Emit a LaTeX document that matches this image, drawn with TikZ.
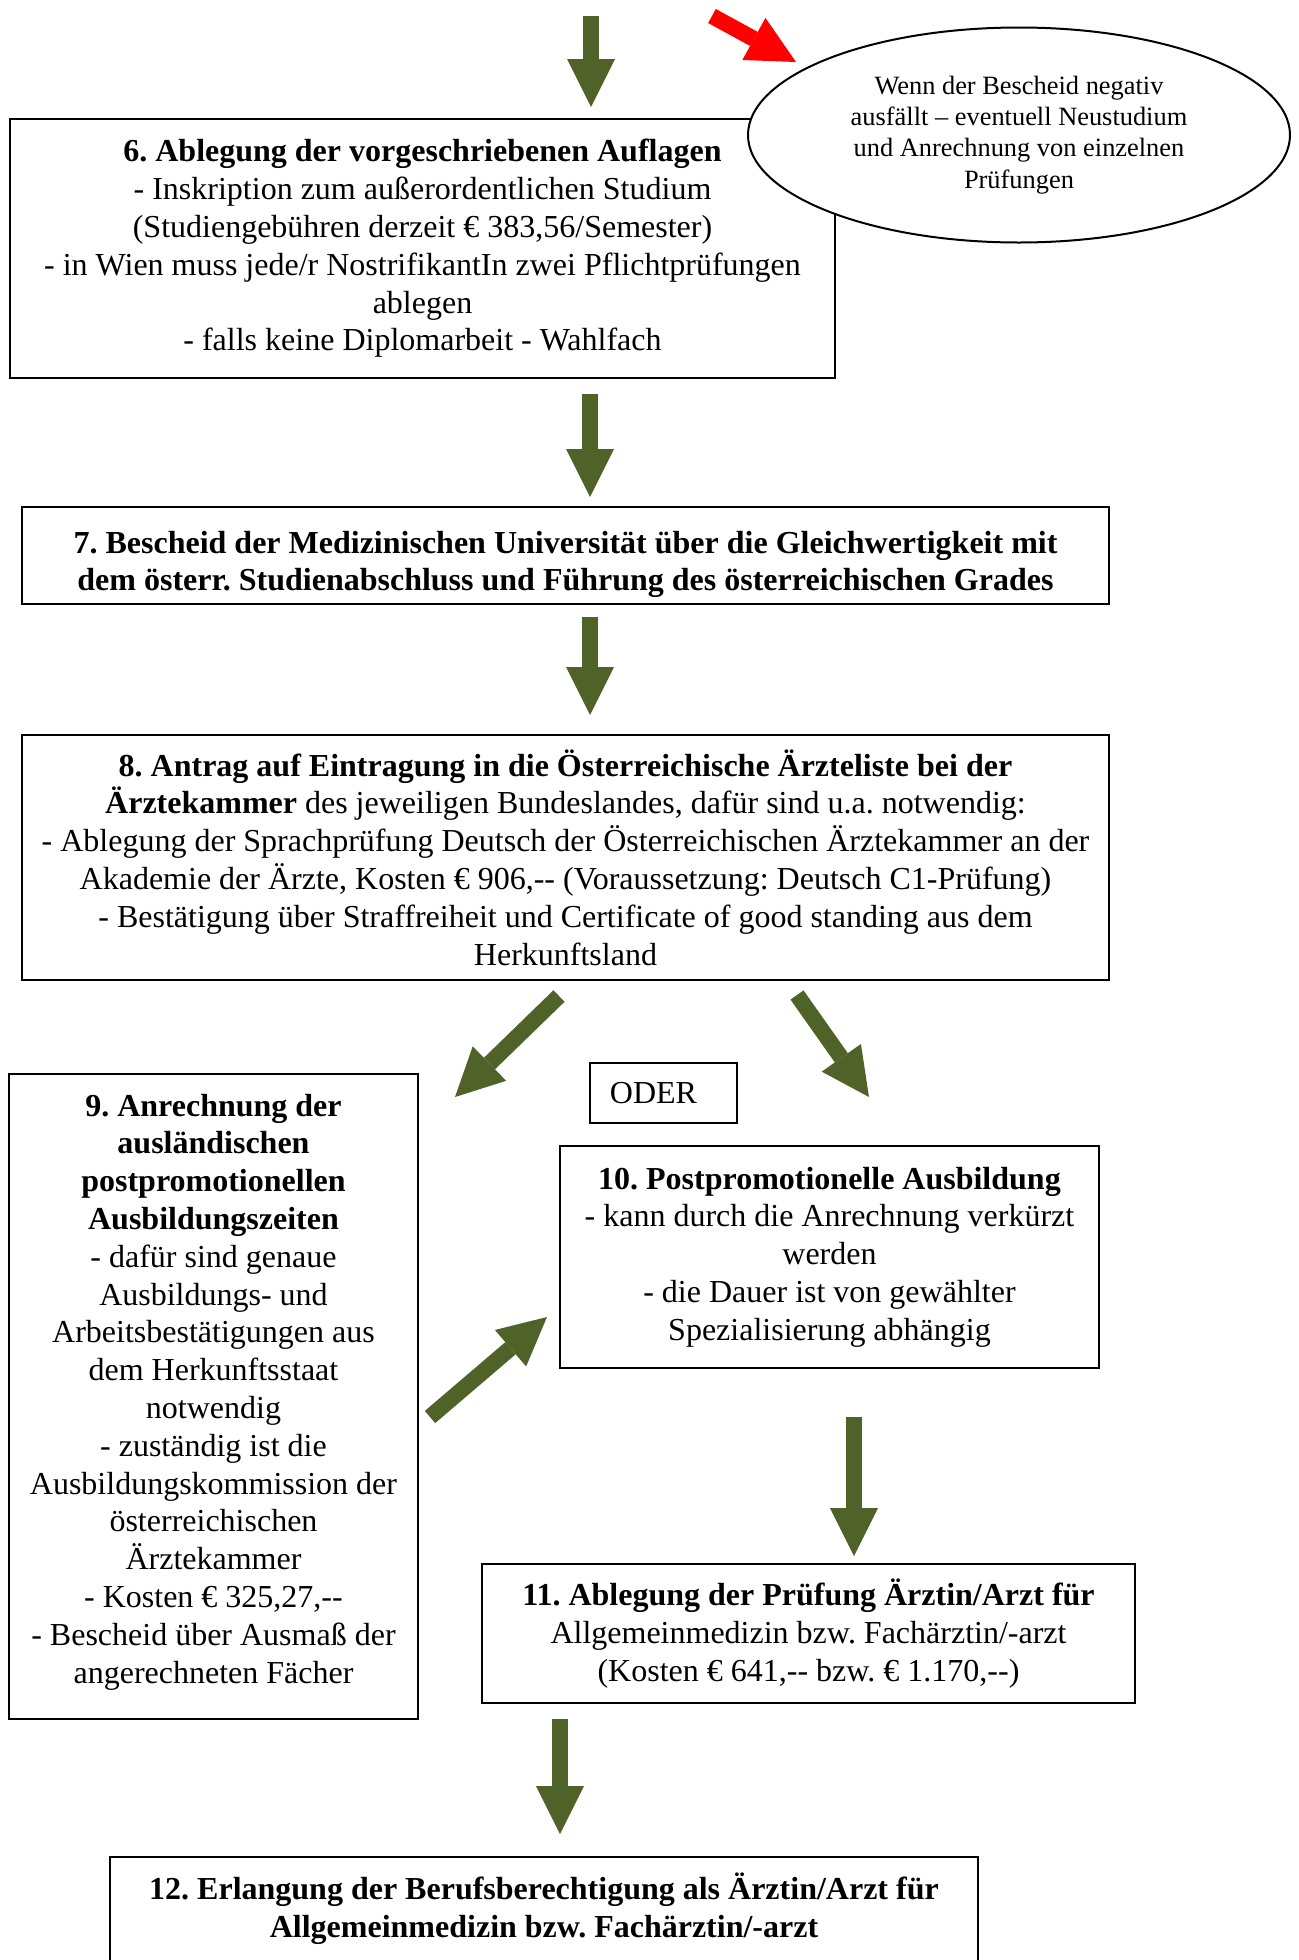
\documentclass[tikz,border=0pt]{standalone}
\usepackage{fontspec}
\setmainfont{Liberation Serif}
\usetikzlibrary{arrows.meta,shapes.geometric}
\definecolor{olivearrow}{HTML}{4F6228}
\newcommand{\dhy}{-\kern0pt-}
\frenchspacing

\begin{document}
\begin{tikzpicture}[x=0.5pt, y=-0.5pt]

%-------------------------------------------------
% Styles
%-------------------------------------------------
\tikzset{
  box/.style={draw=black, line width=1pt, rectangle, fill=white, align=center, inner sep=0pt, font=\fontsize{16}{18.9}\selectfont},
  note/.style={draw=black, line width=1pt, ellipse, fill=white, align=center, inner sep=0pt, font=\fontsize{13.2}{15.65}\selectfont},
  bigarrow/.style={line width=8pt, color=olivearrow, -{Triangle[width=24pt, length=24pt, line width=0pt]}},
  warnarrow/.style={bigarrow, color=red}
}

\useasboundingbox (0,0) rectangle (1299,1960);
\clip (0,0) rectangle (1299,1960);

%-------------------------------------------------
% Steps 6 and 7
%-------------------------------------------------
\node[box, minimum width=412.5pt, minimum height=129.5pt] (auflagen) at (422.5,248.5)
  {\textbf{6. Ablegung der vorgeschriebenen Auflagen}\\
   - Inskription zum außerordentlichen Studium\\
   (Studiengebühren derzeit € 383,56/Semester)\\
   - in Wien muss jede/r NostrifikantIn zwei Pflichtprüfungen\\
   ablegen\\
   - falls keine Diplomarbeit - Wahlfach};

% Note on negative decision
\node[note, minimum width=271pt, minimum height=107.5pt] (negativ) at (1019,135)
  {Wenn der Bescheid negativ\\
   ausfällt – eventuell Neustudium\\
   und Anrechnung von einzelnen\\
   Prüfungen};

\node[box, minimum width=543.5pt, minimum height=48.5pt] (bescheid) at (565.5,555.5)
  {\rule{0pt}{20pt}\textbf{7. Bescheid der Medizinischen Universität über die Gleichwertigkeit mit}\\
   \textbf{dem österr. Studienabschluss und Führung des österreichischen Grades}};

%-------------------------------------------------
% Step 8
%-------------------------------------------------
\node[box, minimum width=543.5pt, minimum height=122.5pt] (antrag) at (565.5,857.5)
  {\textbf{8. Antrag auf Eintragung in die Österreichische Ärzteliste bei der}\\
   \textbf{Ärztekammer} des jeweiligen Bundeslandes, dafür sind u.a. notwendig:\\
   - Ablegung der Sprachprüfung Deutsch der Österreichischen Ärztekammer an der\\
   Akademie der Ärzte, Kosten € 906,\dhy{} (Voraussetzung: Deutsch C1-Prüfung)\\
   - Bestätigung über Straffreiheit und Certificate of good standing aus dem\\
   Herkunftsland};

%-------------------------------------------------
% Steps 9 and 10
%-------------------------------------------------
\node[box, minimum width=204.5pt, minimum height=322.5pt] (anrechnung) at (213.5,1396.5)
  {\textbf{9. Anrechnung der}\\
   \textbf{ausländischen}\\
   \textbf{postpromotionellen}\\
   \textbf{Ausbildungszeiten}\\
   - dafür sind genaue\\
   Ausbildungs- und\\
   Arbeitsbestätigungen aus\\
   dem Herkunftsstaat\\
   notwendig\\
   - zuständig ist die\\
   Ausbildungskommission der\\
   österreichischen\\
   Ärztekammer\\
   - Kosten € 325,27,\dhy\\
   - Bescheid über Ausmaß der\\
   angerechneten Fächer\rule[-8pt]{0pt}{8pt}};

\node[box, minimum width=73.5pt, minimum height=30pt] (oder) at (663.5,1093)
  {ODER\hspace*{10pt}};

\node[box, minimum width=269.5pt, minimum height=111pt] (ausbildung) at (829.5,1257)
  {\textbf{10. Postpromotionelle Ausbildung}\\
   - kann durch die Anrechnung verkürzt\\
   werden\\
   - die Dauer ist von gewählter\\
   Spezialisierung abhängig};

%-------------------------------------------------
% Steps 11 and 12
%-------------------------------------------------
\node[box, minimum width=326.5pt, minimum height=69.5pt] (pruefung) at (808.5,1633.5)
  {\textbf{11. Ablegung der Prüfung Ärztin/Arzt für}\\
   Allgemeinmedizin bzw. Fachärztin/-arzt\\
   (Kosten € 641,\dhy{} bzw. € 1.170,\dhy)};

\node[box, minimum width=434pt, minimum height=90pt, anchor=north] (berechtigung) at (544,1856) {};
\node[align=center, inner sep=0pt, font=\fontsize{16}{18.9}\selectfont] (berechtigungtext) at (544,1909)
  {\textbf{12. Erlangung der Berufsberechtigung als Ärztin/Arzt für}\\
   \textbf{Allgemeinmedizin bzw. Fachärztin/-arzt}};

%-------------------------------------------------
% Arrows
%-------------------------------------------------
\coordinate (in_s) at (591,16);    \coordinate (in_t) at (591,107);
\coordinate (neg_s) at (712,16);   \coordinate (neg_t) at (796,62);
\coordinate (six_s) at (590,394);  \coordinate (six_t) at (590,497);
\coordinate (sev_s) at (590,617);  \coordinate (sev_t) at (590,715);
\coordinate (ln_s) at (559,996);   \coordinate (ln_t) at (455,1097);
\coordinate (rn_s) at (797,995);   \coordinate (rn_t) at (869,1097);
\coordinate (up_s) at (430,1417);  \coordinate (up_t) at (547,1317);
\coordinate (ten_s) at (854,1417); \coordinate (ten_t) at (854,1556);
\coordinate (ele_s) at (560,1719); \coordinate (ele_t) at (560,1834);

\draw[bigarrow] (in_s) -- (in_t);
\draw[warnarrow] (neg_s) -- (neg_t);
\draw[bigarrow] (six_s) -- (six_t);
\draw[bigarrow] (sev_s) -- (sev_t);
\draw[bigarrow] (ln_s) -- (ln_t);
\draw[bigarrow] (rn_s) -- (rn_t);
\draw[bigarrow] (up_s) -- (up_t);
\draw[bigarrow] (ten_s) -- (ten_t);
\draw[bigarrow] (ele_s) -- (ele_t);

\end{tikzpicture}
\end{document}
